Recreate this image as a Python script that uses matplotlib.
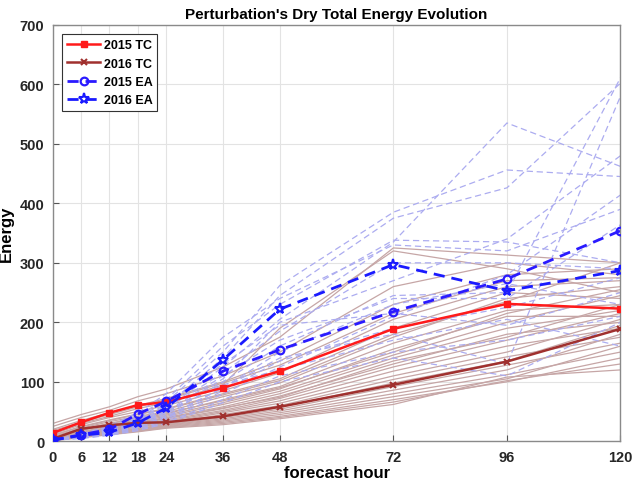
import numpy as np
import matplotlib
matplotlib.use('Agg')
import matplotlib.pyplot as plt

plt.rcParams['font.family'] = ['Liberation Sans', 'DejaVu Sans']
plt.rcParams['font.weight'] = 'bold'

hours = [0, 6, 12, 18, 24, 36, 48, 72, 96, 120]

tc2015 = [14, 32, 48, 61, 66, 90, 118, 189, 231, 223]
tc2016 = [4, 21, 27, 31, 32, 42, 58, 95, 134, 189]
ea2015 = [2, 11, 20, 46, 67, 118, 154, 218, 273, 354]
ea2016 = [2, 10, 15, 31, 56, 137, 222, 297, 253, 287]

# ensemble members (read by eye, approximate)
ea_members = [
    [2, 8, 18, 33, 55, 125, 205, 335, 535, 462],
    [2, 10, 22, 40, 66, 150, 262, 385, 456, 445],
    [2, 9, 20, 36, 60, 140, 245, 375, 426, 602],
    [2, 7, 15, 28, 45, 100, 160, 245, 250, 611],
    [2, 6, 14, 25, 40, 90, 140, 180, 130, 580],
    [2, 11, 24, 44, 70, 160, 230, 338, 335, 300],
    [2, 8, 18, 32, 50, 110, 170, 240, 240, 364],
    [2, 9, 19, 34, 55, 115, 185, 300, 300, 290],
    [2, 6, 12, 22, 35, 80, 125, 210, 280, 414],
    [2, 7, 14, 26, 42, 90, 150, 230, 265, 230],
    [2, 5, 11, 20, 32, 70, 110, 150, 170, 210],
    [2, 6, 13, 24, 38, 85, 135, 190, 225, 275],
    [2, 8, 16, 30, 48, 105, 200, 270, 340, 480],
    [2, 5, 10, 18, 30, 65, 100, 140, 110, 200],
    [2, 9, 21, 38, 62, 130, 195, 215, 195, 250],
    [2, 7, 17, 30, 50, 95, 120, 170, 205, 160],
    [2, 12, 26, 48, 80, 175, 240, 330, 320, 390],
]

tc_members = [
    [30, 45, 58, 75, 88, 125, 175, 325, 313, 300],
    [25, 40, 52, 68, 80, 110, 150, 260, 300, 280],
    [20, 35, 48, 60, 72, 100, 135, 230, 280, 290],
    [15, 30, 42, 55, 65, 95, 190, 320, 290, 250],
    [12, 28, 40, 50, 60, 85, 115, 205, 260, 270],
    [10, 25, 36, 46, 55, 80, 105, 190, 250, 240],
    [8, 22, 33, 42, 50, 75, 98, 175, 240, 260],
    [6, 20, 30, 38, 46, 70, 92, 165, 220, 230],
    [5, 18, 28, 36, 44, 65, 88, 155, 210, 210],
    [5, 16, 26, 34, 42, 62, 84, 145, 200, 245],
    [4, 15, 24, 32, 40, 58, 80, 140, 190, 220],
    [4, 14, 22, 30, 38, 55, 76, 130, 180, 200],
    [3, 13, 21, 28, 36, 52, 72, 125, 170, 215],
    [3, 12, 20, 27, 34, 50, 68, 118, 160, 190],
    [3, 11, 19, 26, 32, 48, 64, 110, 150, 205],
    [2, 10, 18, 25, 30, 45, 60, 104, 142, 175],
    [2, 10, 17, 24, 29, 42, 57, 98, 135, 195],
    [2, 9, 16, 22, 28, 40, 54, 92, 128, 165],
    [2, 9, 15, 21, 27, 38, 51, 86, 120, 180],
    [2, 8, 14, 20, 26, 36, 48, 80, 112, 150],
    [2, 8, 13, 19, 25, 34, 45, 75, 105, 160],
    [2, 7, 12, 18, 24, 32, 42, 70, 100, 140],
    [1, 7, 12, 17, 23, 30, 40, 66, 102, 130],
    [1, 6, 11, 16, 22, 28, 38, 62, 108, 120],
    [18, 32, 45, 58, 70, 98, 128, 215, 270, 275],
    [10, 24, 35, 45, 54, 78, 102, 180, 235, 300],
    [7, 20, 30, 40, 48, 68, 90, 150, 215, 255],
    [3, 14, 23, 31, 39, 56, 74, 135, 175, 230],
]

fig = plt.figure(figsize=(6.34, 4.85), dpi=100)
ax = fig.add_axes([0.0831, 0.088, 0.8956, 0.8588])

for m in tc_members:
    ax.plot(hours, m, '-', color='#c6a6a6', lw=0.9, zorder=1)
for m in ea_members:
    ax.plot(hours, m, '--', color='#acacf0', lw=0.9, dashes=(5, 3), zorder=1)

ax.plot(hours, tc2015, '-s', color='#ff1a1a', lw=1.8, ms=5, label='2015 TC', zorder=5)
ax.plot(hours, tc2016, '-x', color='#a0302e', lw=1.8, ms=5, mew=1.5, label='2016 TC', zorder=5)
ax.plot(hours, ea2015, '--o', color='#2a1aff', lw=2.0, ms=5.5, mfc='none', mew=1.6,
        dashes=(4, 2.5), label='2015 EA', zorder=6)
ax.plot(hours, ea2016, '--*', color='#1a1aff', lw=2.0, ms=8, mfc='none', mew=1.5,
        dashes=(4, 2.5), label='2016 EA', zorder=6)

ax.set_xlim(0, 120)
ax.set_ylim(0, 700)
ax.set_xticks(hours)
ax.set_yticks(range(0, 701, 100))
ax.grid(True, color='#e3e3e3', lw=0.8)
ax.set_axisbelow(True)
ax.tick_params(direction='in', length=4, color='#555555', labelsize=10.5, pad=6)
for s in ax.spines.values():
    s.set_color('#8a8a8a')
    s.set_linewidth(1.0)
for lab in ax.get_xticklabels() + ax.get_yticklabels():
    lab.set_fontweight('bold')
    lab.set_color('#262626')

ax.set_title("Perturbation's Dry Total Energy Evolution", fontsize=11, fontweight='bold', pad=5)
ax.set_xlabel('forecast hour', fontsize=12, fontweight='bold', labelpad=1)
ax.set_ylabel('Energy', fontsize=12, fontweight='bold', labelpad=4)

leg = ax.legend(loc='upper left', bbox_to_anchor=(0.017, 0.977), fontsize=9, frameon=True,
                fancybox=False, edgecolor='#333333', framealpha=1, handlelength=2.6,
                borderpad=0.4, labelspacing=0.5, handletextpad=0.3, borderaxespad=0)
leg.get_frame().set_linewidth(0.8)
for t in leg.get_texts():
    t.set_fontweight('bold')

fig.savefig('out.png', dpi=100)
